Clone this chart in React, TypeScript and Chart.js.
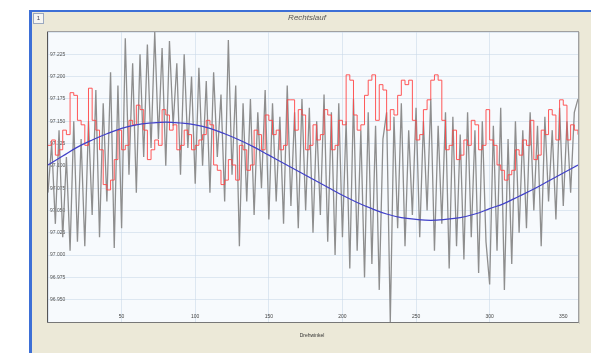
import { useEffect, useRef } from "react";
import { Chart, registerables } from "chart.js";

Chart.register(...registerables);

// ---- data (deviation in µm from 97.000) ----
const chartTitle = "Rechtslauf";
const xAxisTitle = "Drehwinkel";
const panelNumber = "1";

const greyStepDeg = 2.5;
const greyValues = [
  70, 125, 35, 140, 20, 110, 5, 150, 15, 130,
  10, 150, 45, 185, 20, 170, 60, 205, 8, 190,
  30, 243, 90, 215, 70, 225, 110, 236, 120, 250,
  130, 232, 100, 240, 145, 215, 90, 225, 120, 200,
  80, 210, 100, 195, 70, 205, 110, 180, 60, 241,
  90, 190, 10, 170, 60, 175, 45, 160, 75, 185,
  40, 170, 60, 155, 35, 190, 55, 160, 30, 175,
  50, 165, 25, 150, 45, 180, 15, 160, 0, 170,
  20, 150, -15, 175, 5, 140, -25, 160, -10, 145,
  -39, 130, 160, -75, 155, 30, 170, 10, 140, 45,
  165, 20, 150, 50, 175, 5, 145, 35, 160, -15,
  155, 10, 135, -5, 160, 20, 140, -20, 150, 15,
  -33, 145, 5, 165, -39, 130, -10, 150, 25, 140,
  30, 160, 50, 145, 10, 155, 60, 140, 40, 165,
  55, 150, 70, 160, 175,
];

const redStepDeg = 2.5;
const redValues = [
  123, 129, 112, 118, 140, 135, 182, 179, 151, 146,
  123, 187, 151, 140, 118, 79, 73, 84, 107, 140,
  118, 123, 151, 146, 168, 163, 140, 107, 118, 129,
  123, 163, 157, 140, 146, 118, 123, 140, 135, 118,
  123, 129, 135, 151, 146, 101, 95, 79, 84, 107,
  101, 84, 123, 118, 95, 101, 140, 135, 118, 157,
  151, 135, 140, 118, 123, 174, 174, 140, 163, 157,
  118, 123, 146, 129, 135, 163, 157, 118, 123, 151,
  146, 202, 196, 157, 140, 146, 179, 196, 202, 151,
  191, 185, 140, 163, 157, 179, 196, 191, 196, 151,
  129, 135, 163, 174, 196, 202, 196, 151, 118, 123,
  140, 107, 112, 129, 123, 151, 146, 118, 123, 163,
  129, 123, 101, 95, 84, 90, 95, 118, 112, 129,
  123, 151, 107, 112, 140, 135, 163, 157, 129, 174,
  168, 129, 146, 140, 135,
];

const blueStepDeg = 10;
const blueValues = [
  101, 111, 121, 129, 136, 142, 146, 148, 149, 148,
  146, 142, 136, 129, 121, 112, 103, 94, 85, 76,
  67, 59, 52, 46, 42, 40, 39, 40, 42, 46,
  52, 58, 66, 74, 83, 92, 101,
];

const yTickValues = [-50, -25, 0, 25, 50, 75, 100, 125, 150, 175, 200, 225];
const yTickLabels = [
  "96.950", "96.975", "97.000", "97.025", "97.050", "97.075",
  "97.100", "97.125", "97.150", "97.175", "97.200", "97.225",
];
const xTickValues = [50, 100, 150, 200, 250, 300, 350];
const xTickLabels = ["50", "100", "150", "200", "250", "300", "350"];

const toPoints = (vals: number[], step: number) =>
  vals.map((v, i) => ({ x: i * step, y: v }));

const framePlugin = {
  id: "frame",
  beforeDraw(chart: any) {
    const { ctx, chartArea: a } = chart;
    ctx.save();
    ctx.fillStyle = "#ffffff";
    ctx.fillRect(0, 0, 591, 353);
    ctx.fillStyle = "rgb(236,233,216)";
    ctx.fillRect(31, 11, 560, 342);
    ctx.fillStyle = "#3d6fd6";
    ctx.fillRect(29, 10, 3, 343);
    ctx.fillRect(29, 10, 562, 2);
    // plot background
    ctx.fillStyle = "#f7fafd";
    ctx.fillRect(a.left, a.top, a.right - a.left, a.bottom - a.top);
    // panel number box
    ctx.fillStyle = "#f6f6f2";
    ctx.fillRect(33, 13, 10, 10);
    ctx.strokeStyle = "#9aa8c0";
    ctx.lineWidth = 1;
    ctx.strokeRect(33.5, 13.5, 10, 10);
    ctx.fillStyle = "#445";
    ctx.font = '6px "Liberation Sans", sans-serif';
    ctx.textAlign = "center";
    ctx.textBaseline = "middle";
    ctx.fillText(panelNumber, 38.5, 18.5);
    // title
    ctx.fillStyle = "#555";
    ctx.font = 'italic 8px "Liberation Sans", sans-serif';
    ctx.fillText(chartTitle, 307, 18);
    ctx.restore();
  },
  afterDraw(chart: any) {
    const { ctx, chartArea: a } = chart;
    const xs = chart.scales.x;
    ctx.save();
    ctx.lineWidth = 1;
    ctx.strokeStyle = "#a0a0a0";
    ctx.strokeRect(a.left - 0.5, a.top - 0.5, a.right - a.left + 1, a.bottom - a.top + 1);
    ctx.strokeStyle = "#cfcdc2";
    ctx.beginPath();
    ctx.moveTo(a.right + 1.5, a.top);
    ctx.lineTo(a.right + 1.5, a.bottom + 2);
    ctx.stroke();
    ctx.strokeStyle = "#555";
    ctx.beginPath();
    ctx.moveTo(a.left - 0.5, a.top);
    ctx.lineTo(a.left - 0.5, a.bottom + 0.5);
    ctx.stroke();
    ctx.strokeStyle = "#777";
    ctx.beginPath();
    ctx.moveTo(a.left - 0.5, a.bottom + 0.5);
    ctx.lineTo(a.right + 0.5, a.bottom + 0.5);
    ctx.stroke();
    // x tick labels drawn inside the plot, just above the axis
    ctx.fillStyle = "#444";
    ctx.font = '5px "Liberation Sans", sans-serif';
    ctx.textAlign = "center";
    ctx.textBaseline = "middle";
    xTickValues.forEach((v, i) => {
      ctx.fillText(xTickLabels[i], xs.getPixelForValue(v), a.bottom - 5);
    });
    ctx.fillStyle = "#333";
    ctx.fillText(xAxisTitle, 312, 336);
    ctx.restore();
  },
};

export default function App() {
  const ref = useRef<HTMLCanvasElement | null>(null);
  useEffect(() => {
    document.body.style.margin = "0";
    if (!ref.current) return;
    const gridColor = "rgba(200,215,232,0.55)";
    const chart = new Chart(ref.current, {
      type: "line",
      data: {
        datasets: [
          {
            label: "Mittel",
            data: toPoints(blueValues, blueStepDeg),
            borderColor: "#4040c8",
            borderWidth: 1.2,
            pointRadius: 0,
            tension: 0.4,
          },
          {
            label: "Rechts",
            data: toPoints(redValues, redStepDeg),
            borderColor: "rgba(255,70,70,0.9)",
            borderWidth: 1,
            pointRadius: 0,
            stepped: true,
          },
          {
            label: "Roh",
            data: toPoints(greyValues, greyStepDeg),
            borderColor: "#8e8e8e",
            borderWidth: 1.3,
            pointRadius: 0,
            tension: 0,
          },
        ],
      },
      options: {
        responsive: false,
        animation: false,
        devicePixelRatio: 1,
        layout: { padding: { left: 48, top: 32, right: 13, bottom: 31 } },
        plugins: {
          legend: { display: false },
          title: { display: false },
          tooltip: { enabled: false },
        },
        scales: {
          x: {
            type: "linear",
            min: 0,
            max: 360,
            afterFit: (s: any) => {
              s.height = 0;
            },
            border: { display: false },
            grid: { color: gridColor, drawTicks: false },
            ticks: {
              stepSize: 50,
              display: false,
            },
          },
          y: {
            type: "linear",
            min: -75,
            max: 250,
            afterFit: (s: any) => {
              s.width = 0;
            },
            border: { display: false },
            grid: { color: gridColor, drawTicks: false },
            ticks: {
              stepSize: 25,
              mirror: true,
              padding: 2,
              color: "#555",
              font: { size: 5, family: '"Liberation Sans", sans-serif' },
              autoSkip: false,
              callback: (value: any) => {
                const i = yTickValues.indexOf(Number(value));
                return i >= 0 ? yTickLabels[i] : "";
              },
            },
          },
        },
      },
      plugins: [framePlugin],
    });
    return () => chart.destroy();
  }, []);
  return (
    <canvas
      ref={ref}
      width={591}
      height={353}
      style={{ display: "block", width: 591, height: 353 }}
    />
  );
}
